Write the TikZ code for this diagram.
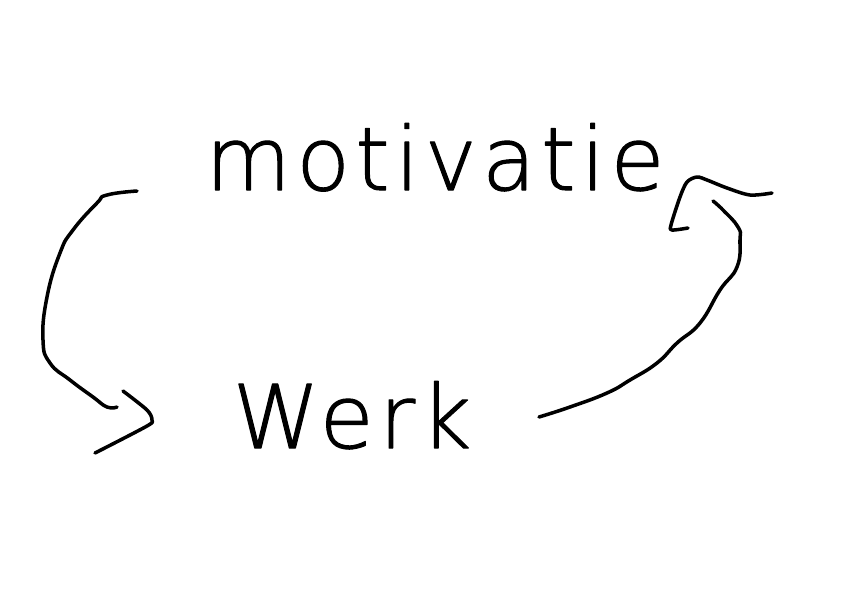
\documentclass[tikz,border=0pt]{standalone}
\usepackage{fontspec}
\newfontfamily\sketchfont[LetterSpace=6, FakeBold=1.2]{DejaVu Sans ExtraLight}
\begin{document}
\begin{tikzpicture}[x=0.02cm, y=-0.02cm, line width=2pt, line cap=round, line join=round]
			\useasboundingbox (0,0) rectangle (856,589);
			\tikzset{word/.style={anchor=base, inner sep=0pt, font=\sketchfont\fontsize{50}{60}\selectfont}}
			
			\node[word] (motivatie) at (435,190) {motivatie};
			\node[word] (werk) at (352,448) {Werk};
			
			\coordinate (motivatie-out) at (137,191);
			\coordinate (werk-in) at (117,407);
			\draw plot[smooth, tension=0.8] coordinates {(motivatie-out) (107,195) (97,203) (73,230) (60,253) (47,297) (43,340) (50,363) (70,380) (93,397) (107,407) (werk-in)};
			\draw plot[smooth, tension=0.5] coordinates {(123,391) (147,410) (152,420) (147,426) (95,453)};
			
			\coordinate (werk-out) at (539,417);
			\coordinate (motivatie-in) at (713,201);
			\draw plot[smooth, tension=0.8] coordinates {(werk-out) (570,407) (607,393) (630,380) (657,363) (677,343) (700,323) (720,290) (737,267) (740,240) (738,227) (723,210) (motivatie-in)};
			\draw plot[smooth, tension=0.5] coordinates {(688,228) (672,230) (671,225) (680,197) (687,182) (697,177) (707,180) (727,188) (750,195) (772,193)};
\end{tikzpicture}
\end{document}
